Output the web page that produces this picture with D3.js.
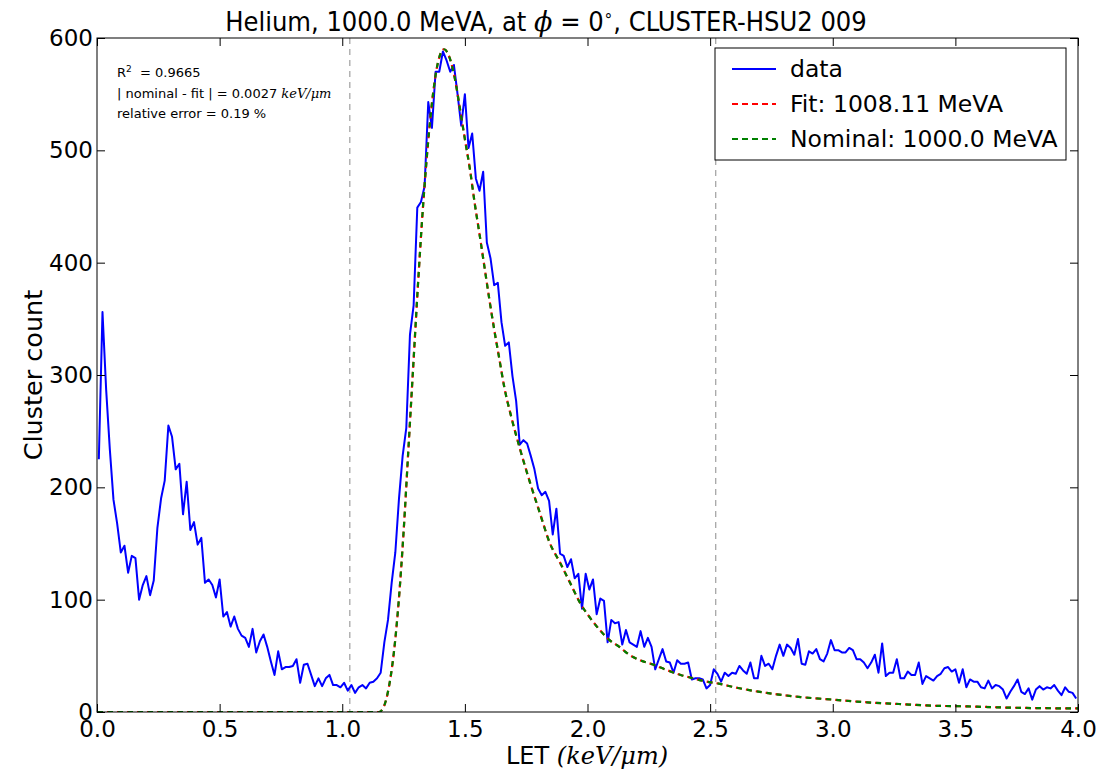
<!DOCTYPE html>
<html>
<head>
<meta charset="utf-8">
<script src="https://cdn.jsdelivr.net/npm/d3@7"></script>
<style>
  body { margin: 0; background: #fff; }
  text { font-family: "DejaVu Sans", sans-serif; }
  .math { font-family: "DejaVu Serif", serif; font-style: italic; }
</style>
</head>
<body>
<div id="chart"></div>
<script>
// histogram of cluster LET, 268 bins between 0 and 4 keV/um
var nBins = 268;
var letMax = 4.0;
var counts = [
  225, 356, 287, 234, 189, 168, 142, 148, 124, 139,
  137, 100, 113, 121, 104, 117, 164, 190, 206, 255,
  245, 216, 221, 176, 205, 162, 169, 149, 155, 115,
  118, 113, 102, 118, 85, 89, 76, 85, 74, 68,
  66, 58, 74, 53, 63, 69, 58, 45, 33, 54,
  38, 40, 40, 41, 47, 26, 42, 43, 33, 23,
  30, 23, 30, 33, 24, 24, 22, 26, 19, 24,
  17, 22, 24, 21, 26, 27, 30, 35, 62, 82,
  115, 142, 190, 228, 253, 336, 362, 449, 454, 468,
  543, 520, 570, 570, 588, 580, 570, 576, 550, 522,
  550, 502, 515, 475, 464, 481, 418, 404, 380, 382,
  347, 326, 329, 299, 277, 238, 242, 239, 228, 216,
  199, 193, 196, 188, 158, 181, 141, 139, 129, 136,
  119, 123, 92, 123, 109, 118, 87, 101, 99, 62,
  82, 79, 80, 60, 73, 62, 60, 58, 72, 58,
  66, 58, 38, 47, 56, 45, 44, 35, 46, 43,
  43, 44, 29, 30, 30, 29, 21, 24, 38, 34,
  27, 35, 32, 35, 34, 41,
  37, 34, 44, 30, 30, 50, 41, 43, 38,
  50, 60, 50, 60, 57, 51, 65, 43, 42, 54,
  52, 56, 47, 45, 52, 64, 55, 55, 53, 53,
  57, 55, 47, 47, 44, 39, 44, 51, 35, 61,
  32, 35, 35, 47, 30, 30, 36, 33, 33, 44,
  25, 32, 30, 28, 32, 34, 39, 40, 36, 38,
  26, 38, 22, 29, 27, 27, 22, 21, 28, 21,
  24, 23, 20, 12, 18, 23, 29, 18, 16, 21,
  11, 20, 23, 20, 22, 21, 24, 19, 15, 22,
  18, 17, 12
];

// fit / nominal curves (they overlap)
var curveLet = [0, 1.15, 1.17, 1.19, 1.21, 1.23, 1.25, 1.27, 1.29, 1.31, 1.33, 1.35, 1.37, 1.39, 1.415,
  1.44, 1.46, 1.48, 1.50, 1.52, 1.54, 1.56, 1.58, 1.60, 1.62, 1.64, 1.66, 1.69, 1.725, 1.766,
  1.806, 1.847, 1.888, 1.929, 1.97, 2.01, 2.05, 2.09, 2.13, 2.17, 2.21, 2.27, 2.32, 2.38,
  2.43, 2.48, 2.54, 2.60, 2.73, 2.87, 3.0, 3.14, 3.27, 3.41, 3.55, 3.68, 3.82, 4.0];
var fitCounts = [0, 0, 5, 22, 52, 98, 160, 235, 310, 385, 452, 507, 550, 578, 590,
  581, 563, 537, 510, 484, 453, 425, 396, 367, 340, 315, 290, 262, 234, 204,
  177, 150, 133, 115, 97, 84, 73, 64, 58, 51, 46.5, 42, 37.6, 33,
  30, 27.3, 25, 22, 17, 13.3, 11, 8.6, 7.1, 5.6, 5, 4.1, 3.5, 3.2];
var nominalCounts = fitCounts.slice();

var cutLines = [1.031, 2.523];
var xTicks = [0, 0.5, 1.0, 1.5, 2.0, 2.5, 3.0, 3.5, 4.0];
var yTicks = [0, 100, 200, 300, 400, 500, 600];
var legendLabels = ["data", "Fit: 1008.11 MeVA", "Nominal: 1000.0 MeVA"];
var statLines = ["= 0.9665", "| nominal - fit | = 0.0027 ", "relative error = 0.19 %"];

var w = 1120;
var h = 771;
// plot box (don't use "top" as a global name, it's window.top)
var pLeft = 97, pRight = 1078, pTop = 38, pBottom = 712;

var svg = d3.select("#chart").append("svg").attr("width", w).attr("height", h);

var xScale = d3.scaleLinear().domain([0, 4]).range([pLeft, pRight]);
var yScale = d3.scaleLinear().domain([0, 600]).range([pBottom, pTop]);

var binW = letMax / nBins;
var data = counts.map(function(c, i) {
  return { let: (i + 0.5) * binW, count: c };
});

svg.append("defs").append("clipPath").attr("id", "clip")
  .append("rect").attr("x", pLeft).attr("y", pTop).attr("width", pRight - pLeft).attr("height", pBottom - pTop);

// vertical cut lines
svg.selectAll(".cut").data(cutLines).enter().append("line")
  .attr("class", "cut")
  .attr("x1", function(d) { return xScale(d); })
  .attr("x2", function(d) { return xScale(d); })
  .attr("y1", pTop).attr("y2", pBottom)
  .attr("stroke", "#8c8c8c").attr("stroke-width", 1).attr("stroke-dasharray", "6,5");

var plot = svg.append("g").attr("clip-path", "url(#clip)");

var dataLine = d3.line()
  .x(function(d) { return xScale(d.let); })
  .y(function(d) { return yScale(d.count); });

plot.append("path").datum(data)
  .attr("d", dataLine)
  .attr("fill", "none").attr("stroke", "#0000ff").attr("stroke-width", 2).attr("stroke-linejoin", "round");

var curveLine = d3.line()
  .x(function(d) { return xScale(d[0]); })
  .y(function(d) { return yScale(d[1]); })
  .curve(d3.curveMonotoneX);

plot.append("path").datum(d3.zip(curveLet, fitCounts))
  .attr("d", curveLine)
  .attr("fill", "none").attr("stroke", "#ff0000").attr("stroke-width", 2.2).attr("stroke-dasharray", "6,4");
plot.append("path").datum(d3.zip(curveLet, nominalCounts))
  .attr("d", curveLine)
  .attr("fill", "none").attr("stroke", "#008000").attr("stroke-width", 2.2).attr("stroke-dasharray", "5,5")
  .attr("stroke-dashoffset", -1);

// axes, ticks pointing inwards like matplotlib classic
var xAxis = d3.axisBottom(xScale).tickValues(xTicks).tickFormat(d3.format(".1f")).tickSize(-8).tickPadding(9);
var yAxis = d3.axisLeft(yScale).tickValues(yTicks).tickFormat(d3.format("d")).tickSize(-8).tickPadding(4);
var gx = svg.append("g").attr("transform", "translate(0," + pBottom + ")").call(xAxis);
var gy = svg.append("g").attr("transform", "translate(" + pLeft + ",0)").call(yAxis);
var gxt = svg.append("g").attr("transform", "translate(0," + pTop + ")")
  .call(d3.axisTop(xScale).tickValues(xTicks).tickFormat("").tickSize(-8));
var gyr = svg.append("g").attr("transform", "translate(" + pRight + ",0)")
  .call(d3.axisRight(yScale).tickValues(yTicks).tickFormat("").tickSize(-8));
[gx, gy, gxt, gyr].forEach(function(g) {
  g.select(".domain").remove();
  g.selectAll(".tick line").attr("stroke", "#000");
  g.selectAll("text").style("font-size", "23px").attr("fill", "#000").style("font-family", "DejaVu Sans");
});

svg.append("rect").attr("x", pLeft).attr("y", pTop).attr("width", pRight - pLeft).attr("height", pBottom - pTop)
  .attr("fill", "none").attr("stroke", "#000").attr("stroke-width", 1);

// title
var title = svg.append("text").attr("x", 546).attr("y", 31).attr("text-anchor", "middle")
  .style("font-size", "27px").style("font-family", "'DejaVu Sans Condensed', 'DejaVu Sans', sans-serif");
title.append("tspan").text("Helium, 1000.0 MeVA, at ");
title.append("tspan").attr("class", "math").text("ϕ");
title.append("tspan").text(" = 0");
title.append("tspan").attr("dy", -10).style("font-size", "17px").text("∘");
title.append("tspan").attr("dy", 10).text(", CLUSTER-HSU2 009");

// axis labels
var xl = svg.append("text").attr("x", 587).attr("y", 764).attr("text-anchor", "middle").style("font-size", "24px");
xl.append("tspan").text("LET ");
xl.append("tspan").attr("class", "math").text("(keV/μm)");

svg.append("text").attr("transform", "translate(42," + ((pTop + pBottom) / 2) + ") rotate(-90)")
  .attr("text-anchor", "middle").style("font-size", "25.5px").text("Cluster count");

// fit statistics box
var st = svg.append("g").style("font-size", "13px");
var r2 = st.append("text").attr("x", 117).attr("y", 77);
r2.append("tspan").text("R");
r2.append("tspan").attr("dy", -5).style("font-size", "9px").text("2");
r2.append("tspan").attr("dy", 5).text("  " + statLines[0]).attr("xml:space", "preserve");
var l2 = st.append("text").attr("x", 117).attr("y", 98);
l2.append("tspan").text(statLines[1]);
l2.append("tspan").attr("class", "math").text("keV/μm");
st.append("text").attr("x", 117).attr("y", 118).text(statLines[2]);

// legend
var legend = svg.append("g");
legend.append("rect").attr("x", 715).attr("y", 48).attr("width", 351).attr("height", 112)
  .attr("fill", "#fff").attr("stroke", "#000").attr("stroke-width", 1);
var legendColors = ["#0000ff", "#ff0000", "#008000"];
var legendDash = [null, "6,4", "6,4"];
legendLabels.forEach(function(lab, i) {
  var yy = 69 + i * 35;
  legend.append("line").attr("x1", 732).attr("x2", 776).attr("y1", yy).attr("y2", yy)
    .attr("stroke", legendColors[i]).attr("stroke-width", 2).attr("stroke-dasharray", legendDash[i]);
  legend.append("text").attr("x", 790).attr("y", yy + 8).style("font-size", "23.5px").text(lab);
});
</script>
</body>
</html>
